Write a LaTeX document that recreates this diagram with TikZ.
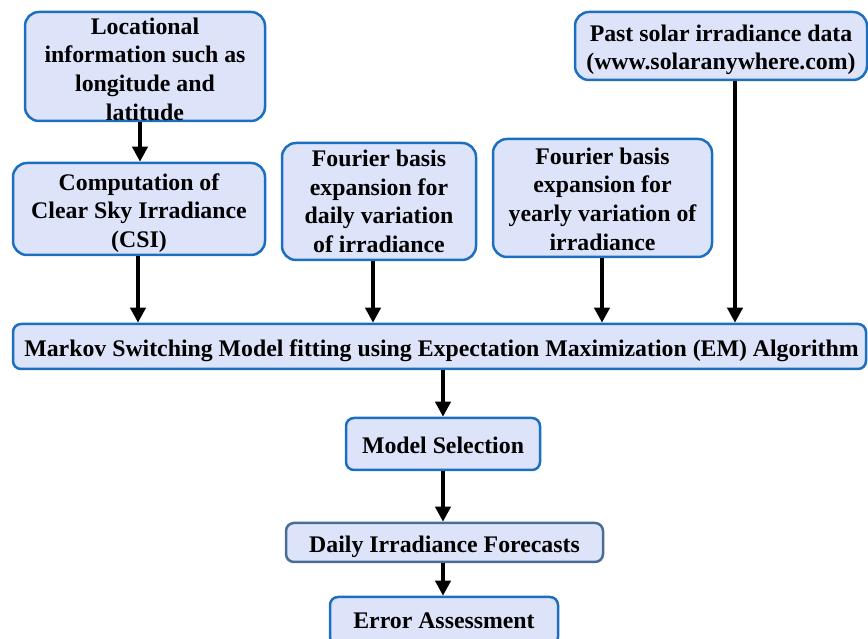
\documentclass[tikz,border=0pt]{standalone}
\usepackage{fontspec}
\setmainfont{Liberation Serif}
\usetikzlibrary{arrows.meta}
\definecolor{boxfill}{RGB}{221,228,250}
\definecolor{boxline}{RGB}{28,110,190}
\definecolor{boxgray}{RGB}{72,110,150}
\tikzset{
  box/.style={draw=boxline, fill=boxfill, line width=2.5pt, rounded corners=14pt, inner sep=0pt},
  sbox/.style={box, rounded corners=8pt},
  txt/.style={align=center, inner sep=0pt,
    font=\fontsize{23.8}{28.6}\selectfont\bfseries},
  arr/.style={-{Triangle[width=15pt,length=15pt]}, line width=3.8pt, black}
}
\begin{document}
\begin{tikzpicture}[x=1pt,y=1pt]
\useasboundingbox (0,0) rectangle (868,639);
\clip (0,0) rectangle (868,639);
\node[box, minimum width=240pt, minimum height=109pt] (b1) at (145,572.5) {};
\node[txt, yshift=-2.5pt] (t1) at (b1) {Locational\\information such as\\longitude and\\latitude};
\node[box, minimum width=252pt, minimum height=92pt] (b2) at (139,430) {};
\node[txt, yshift=-4pt] (t2) at (b2) {Computation of\\Clear Sky Irradiance\\(CSI)};
\node[box, minimum width=194pt, minimum height=117pt] (b3) at (379,437.5) {};
\node[txt] (t3) at (b3) {Fourier basis\\expansion for\\daily variation\\of irradiance};
\node[box, minimum width=219pt, minimum height=118pt] (b4) at (602.5,441) {};
\node[txt, yshift=-1pt] (t4) at (b4) {Fourier basis\\expansion for\\yearly variation of\\irradiance};
\node[box, minimum width=292pt, minimum height=68pt] (b5) at (721,593) {};
\node[txt, yshift=-4pt] (t5) at (b5) {Past solar irradiance data\\(www.solaranywhere.com)};
\node[sbox, minimum width=853pt, minimum height=45pt] (mk) at (439.5,292.5) {};
\node[txt, yshift=-4pt, xshift=2pt] (tm) at (mk) {Markov Switching Model fitting using Expectation Maximization (EM) Algorithm};
\node[sbox, minimum width=194pt, minimum height=52pt] (ms) at (443,195) {};
\node[txt, yshift=-1pt] (tms) at (ms) {Model Selection};
\node[sbox, draw=boxgray, minimum width=317pt, minimum height=39pt] (df) at (444.5,96.5) {};
\node[txt, yshift=-4pt] (tdf) at (df) {Daily Irradiance Forecasts};
\node[sbox, minimum width=228pt, minimum height=48pt] (ea) at (444,18) {};
\node[txt] (tea) at (ea) {Error Assessment};
\coordinate (x1) at (140,0);
\coordinate (x2) at (138,0);
\coordinate (x3) at (373,0);
\coordinate (x4) at (602,0);
\coordinate (x5) at (735,0);
\coordinate (xm) at (443,0);
\draw[arr] (b1.south -| x1) -- (b2.north -| x1);
\draw[arr] (b2.south -| x2) -- (mk.north -| x2);
\draw[arr] (b3.south -| x3) -- (mk.north -| x3);
\draw[arr] (b4.south -| x4) -- (mk.north -| x4);
\draw[arr] (b5.south -| x5) -- (mk.north -| x5);
\draw[arr] (mk.south -| xm) -- (ms.north -| xm);
\draw[arr] (ms.south -| xm) -- (df.north -| xm);
\draw[arr] (df.south -| xm) -- (ea.north -| xm);
\end{tikzpicture}
\end{document}
